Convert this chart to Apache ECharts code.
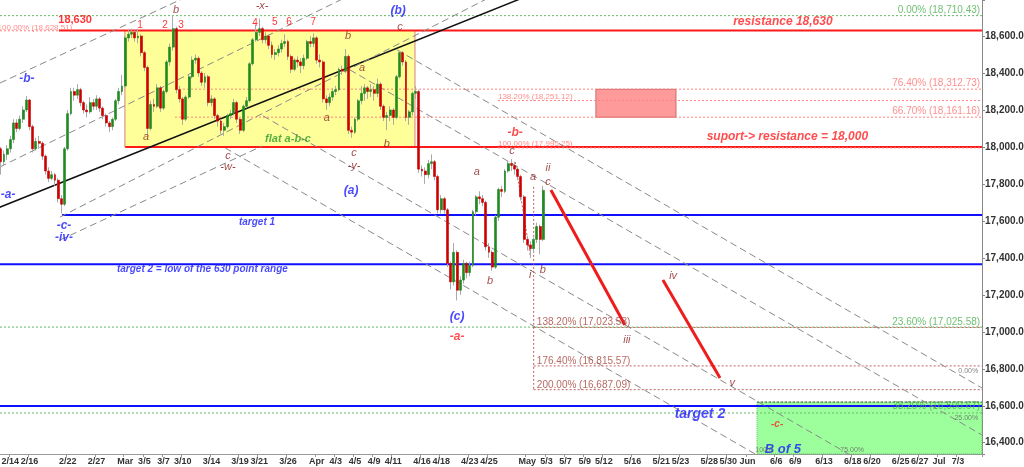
<!DOCTYPE html>
<html><head><meta charset="utf-8">
<script src="https://cdn.jsdelivr.net/npm/echarts/dist/echarts.min.js"></script>
<style>html,body{margin:0;padding:0;background:#fff}#c{width:1024px;height:467px}</style>
</head><body><div id="c"></div><script>
// trading days (one slot per day, 3 bars per day)
const days = ['2/13','2/14','2/15','2/16','2/19','2/20','2/21','2/22','2/23','2/26','2/27','2/28','2/29',
'3/1','3/4','3/5','3/6','3/7','3/8','3/11','3/12','3/13','3/14','3/15','3/18','3/19','3/20','3/21','3/22','3/25','3/26','3/27','3/28',
'4/1','4/2','4/3','4/4','4/5','4/8','4/9','4/10','4/11','4/12','4/15','4/16','4/17','4/18','4/19','4/22','4/23','4/24','4/25','4/26','4/29','4/30',
'5/1','5/2','5/3','5/6','5/7','5/8','5/9','5/10','5/13','5/14','5/15','5/16','5/17','5/20','5/21','5/22','5/23','5/24','5/27','5/28','5/29','5/30','5/31',
'6/3','6/4','6/5','6/6','6/7','6/10','6/11','6/12','6/13','6/14','6/17','6/18','6/19','6/20','6/21','6/24','6/25','6/26','6/27','6/28',
'7/1','7/2','7/3','7/4','7/5'];
const barsPerDay = 3;
// [day, printed tick label]
const tickLabels = [['2/14','2/14'],['2/16','2/16'],['2/22','2/22'],['2/27','2/27'],['3/1','Mar'],['3/5','3/5'],['3/7','3/7'],['3/11','3/10'],
['3/14','3/14'],['3/19','3/19'],['3/21','3/21'],['3/26','3/26'],['4/1','Apr'],['4/3','4/3'],['4/5','4/5'],['4/9','4/9'],['4/11','4/11'],
['4/16','4/16'],['4/18','4/18'],['4/23','4/23'],['4/25','4/25'],['5/1','May'],['5/3','5/3'],['5/7','5/7'],['5/9','5/9'],['5/13','5/12'],
['5/16','5/16'],['5/21','5/21'],['5/23','5/23'],['5/28','5/28'],['5/30','5/30'],['6/3','Jun'],['6/6','6/6'],['6/10','6/9'],['6/13','6/13'],
['6/18','6/18'],['6/20','6/20'],['6/25','6/25'],['6/27','6/27'],['7/1','Jul'],['7/3','7/3']];
// [open, close, low, high]
const candles = [
[18110,17990,17970,18130],[17990,17920,17850,18000],[17920,17960,17900,17980],[17960,17990,17930,18010],[17990,18040,17970,18060],
[18040,18130,18020,18150],[18130,18100,18080,18150],[18100,18150,18090,18170],[18150,18200,18130,18220],[18200,18254,18190,18275],
[18254,18110,18090,18260],[18110,17990,17970,18120],[17990,18030,17980,18050],[18030,18020,17990,18060],[18020,17950,17930,18030],
[17950,17870,17850,17960],[17870,17830,17810,17890],[17830,17850,17820,17870],[17850,17820,17790,17860],[17820,17720,17700,17830],
[17720,17690,17640,17740],[17690,17990,17680,18000],[17990,18180,17980,18200],[18180,18300,18170,18320],[18300,18280,18250,18320],
[18280,18310,18260,18340],[18310,18240,18220,18320],[18240,18200,18180,18250],[18200,18190,18160,18230],[18190,18240,18180,18270],
[18240,18220,18200,18260],[18220,18260,18200,18280],[18260,18210,18190,18270],[18210,18170,18150,18220],[18170,18130,18110,18180],
[18130,18110,18080,18140],[18110,18150,18090,18160],[18150,18250,18140,18260],[18250,18300,18230,18320],[18300,18330,18280,18390],
[18330,18590,18320,18600],[18590,18610,18570,18635],[18610,18620,18590,18640],[18620,18590,18570,18630],[18590,18600,18560,18640],
[18600,18510,18490,18610],[18510,18430,18410,18520],[18430,18100,18060,18440],[18100,18230,18090,18250],[18230,18220,18190,18260],
[18220,18320,18210,18340],[18320,18210,18190,18330],[18210,18300,18200,18310],[18300,18460,18290,18470],[18460,18540,18440,18560],
[18540,18640,18520,18710],[18640,18310,18290,18650],[18310,18260,18240,18330],[18260,18150,18120,18270],[18150,18270,18140,18280],
[18270,18380,18260,18390],[18380,18470,18370,18490],[18470,18480,18450,18500],[18480,18400,18380,18490],[18400,18350,18330,18410],
[18350,18380,18320,18400],[18380,18240,18220,18390],[18240,18260,18220,18280],[18260,18170,18150,18270],[18170,18140,18110,18180],
[18140,18090,18070,18150],[18090,18110,18060,18130],[18110,18170,18100,18180],[18170,18180,18150,18200],[18180,18240,18170,18260],
[18240,18150,18130,18250],[18150,18090,18070,18160],[18090,18220,18080,18230],[18220,18250,18210,18270],[18250,18450,18240,18460],
[18450,18580,18440,18590],[18580,18620,18570,18660],[18620,18640,18600,18695],[18640,18580,18560,18650],[18580,18600,18560,18620],
[18600,18550,18530,18610],[18550,18500,18480,18570],[18500,18510,18470,18530],[18510,18530,18490,18550],[18530,18560,18510,18580],
[18560,18570,18540,18610],[18570,18490,18470,18580],[18490,18420,18400,18500],[18420,18470,18410,18480],[18470,18460,18430,18490],
[18460,18440,18400,18480],[18440,18480,18420,18500],[18480,18570,18470,18580],[18570,18560,18540,18600],[18560,18590,18540,18615],
[18590,18470,18450,18600],[18470,18460,18430,18500],[18460,18260,18240,18470],[18260,18240,18200,18280],[18240,18270,18220,18290],
[18270,18300,18250,18320],[18300,18310,18280,18330],[18310,18420,18300,18430],[18420,18410,18390,18440],[18410,18490,18400,18530],
[18490,18090,18070,18500],[18090,18080,18050,18110],[18080,18150,18070,18160],[18150,18250,18140,18260],[18250,18290,18230,18330],
[18290,18320,18250,18340],[18320,18300,18260,18330],[18300,18310,18270,18340],[18310,18290,18250,18330],[18290,18340,18270,18370],
[18340,18220,18200,18350],[18220,18160,18140,18230],[18160,18170,18090,18190],[18170,18200,18140,18220],[18200,18160,18120,18210],
[18160,18380,18150,18390],[18380,18510,18370,18520],[18510,18460,18440,18520],[18460,18160,18140,18470],[18160,18190,18120,18200],
[18190,18290,18170,18300],[18290,18300,18260,18330],[18300,17880,17860,18310],[17880,17870,17840,17900],[17870,17850,17800,17890],
[17850,17910,17830,17930],[17910,17920,17880,17960],[17920,17840,17820,17930],[17840,17660,17640,17850],[17660,17720,17640,17740],
[17720,17660,17640,17730],[17660,17370,17350,17670],[17370,17270,17230,17380],[17270,17430,17250,17480],[17430,17225,17170,17440],
[17225,17280,17200,17300],[17280,17370,17260,17390],[17370,17320,17290,17380],[17320,17360,17300,17380],[17360,17650,17350,17660],
[17650,17730,17630,17740],[17730,17720,17690,17760],[17720,17700,17680,17740],[17700,17460,17440,17710],[17460,17430,17400,17480],
[17430,17350,17330,17440],[17350,17620,17340,17630],[17620,17770,17600,17780],[17770,17760,17730,17790],[17760,17870,17750,17880],
[17870,17910,17860,17925],[17910,17900,17870,17935],[17900,17880,17850,17920],[17880,17840,17820,17890],[17840,17730,17710,17850],
[17730,17500,17480,17740],[17500,17470,17440,17520],[17470,17450,17400,17490],[17450,17500,17430,17510],[17500,17570,17480,17590],
[17570,17500,17420,17580],[17500,17765.25,17490,17790]];
const lastPrice = 17765.25;
const priceRange = [16339, 18795];

// horizontal levels: [price, fromBar, toBar, style]
const levels = [
[18630, 19.2, 308.5, 'red'], [18000, 40, 308.5, 'red'], [18628.51, -0.5, 19.2, 'pinkDot'],
[18710.43, -0.5, 308.5, 'greenDot'], [18312.73, 55.6, 308.5, 'pinkDot'], [18161.16, 55.6, 308.5, 'pinkDot'],
[18251.12, 156.8, 308.5, 'pinkDot'], [17995.25, 156.8, 308.5, 'pinkDot'],
[17632, 20.2, 308.5, 'blue'], [17365, -0.5, 308.5, 'blue'], [16598, -0.5, 308.5, 'blue'],
[17025.58, -0.5, 308.5, 'greenDot'], [17023.53, 168, 308.5, 'brownDot'], [16815.57, 168, 308.5, 'brownDot'],
[16687.09, 168, 308.5, 'brownDot'], [16561, -0.5, 308.5, 'greenDot'], [16620, 238, 308.5, 'blackDot']];
// sloped / vertical lines: [[bar, price], [bar, price], style]
const segments = [
[[-0.5, 17666], [170, 18844], 'trend'],
[[125.2, 18525], [308.5, 16696], 'dash'], [[110.4, 18417], [308.5, 16442], 'dash'],
[[83.2, 18168], [308.5, 15922], 'dash'], [[71.3, 17995], [308.5, 15630], 'dash'],
[[0.75, 18346], [60, 18818], 'dash'], [[0.75, 17892], [110, 18817], 'dash'],
[[19.6, 17621], [156, 18825], 'dash'], [[19.6, 17497], [82.9, 18005], 'dash'],
[[168, 17784], [168, 16687], 'brownDot'], [[162.2, 17919], [166.9, 17415], 'brownDot'],
[[173.4, 17767], [196.6, 17037], 'proj'], [[208.5, 17280], [226.4, 16750], 'proj']];
// boxes: [[bar, price], [bar, price], style]
const boxes = [
[[39.9, 18630], [130.8, 18000], 'yellow'], [[187.5, 18312], [212.6, 18161], 'pink'], [[238, 16339], [308.5, 16620], 'green']];
// text annotations: [bar, price, text, style, anchor]
const notes = [
[24.3, 18687, '18,630', 'redBold', 'c'], [0, 18646, '100.00% (18,628.51)', 'pink', 'l'],
[44.6, 18660, '1', 'num', 'c'], [52.5, 18660, '2', 'num', 'c'], [57.5, 18660, '3', 'num', 'c'], [55.9, 18741, 'b', 'wave', 'c'],
[80.7, 18671, '4', 'num', 'c'], [86.9, 18676, '5', 'num', 'c'], [91.3, 18676, '6', 'num', 'c'], [98.9, 18676, '7', 'num', 'c'],
[82.9, 18763, '-x-', 'wave', 'c'], [125.5, 18736, '(b)', 'blue', 'c'], [126.1, 18649, 'c', 'wave', 'c'],
[9.2, 18368, '-b-', 'blue', 'c'], [3.3, 17740, '-a-', 'blue', 'c'], [20.8, 17573, '-c-', 'blue', 'c'], [20.8, 17508, '-iv-', 'blue', 'c'],
[46.5, 18054, 'a', 'wave', 'c'], [72.2, 17951, 'c', 'wave', 'c'], [72.2, 17892, '-w-', 'wave', 'c'],
[91, 18043, 'flat a-b-c', 'green', 'c'], [109.8, 18600, 'b', 'wave', 'c'], [103.2, 18157, 'a', 'wave', 'c'],
[114.2, 18427, 'a', 'wave', 'c'], [122, 18016, 'b', 'wave', 'c'], [111.7, 17968, 'c', 'wave', 'c'], [111.7, 17897, '-y-', 'wave', 'c'],
[110.8, 17762, '(a)', 'blue', 'c'], [81.3, 17594, 'target 1', 'blueSm', 'c'], [150.2, 17865, 'a', 'wave', 'c'],
[162.2, 18076, '-b-', 'redBI', 'c'], [156.8, 18016, '100.00% (17,995.25)', 'pink', 'l'], [161.2, 17978, 'c', 'wave', 'c'],
[167.8, 17838, 'a', 'wave', 'c'], [172.5, 17886, 'ii', 'wave', 'c'], [172.5, 17811, 'c', 'wave', 'c'],
[156.8, 18271, '138.20% (18,251.12)', 'pink', 'l'], [307.9, 18741, '0.00% (18,710.43)', 'greenFib', 'r'],
[246.1, 18676, 'resistance 18,630', 'redBI', 'c'], [307.9, 18346, '76.40% (18,312.73)', 'pinkFib', 'r'],
[307.9, 18195, '66.70% (18,161.16)', 'pinkFib', 'r'], [272.8, 18054, 'suport-> resistance = 18,000', 'redBI', 'r'],
[144, 17080, '(c)', 'blue', 'c'], [144, 16972, '-a-', 'redBI', 'c'], [154.3, 17275, 'b', 'wave', 'c'],
[166.9, 17307, 'i', 'wave', 'c'], [170.9, 17334, 'b', 'wave', 'c'], [197.2, 16956, 'iii', 'wave', 'c'],
[211.7, 17302, 'iv', 'wave', 'c'], [230.2, 16723, 'v', 'wave', 'c'],
[169, 17053, '138.20% (17,023.53)', 'brownFib', 'l'], [169, 16842, '176.40% (16,815.57)', 'brownFib', 'l'],
[169, 16712, '200.00% (16,687.09)', 'brownFib', 'l'], [220.1, 16555, 'target 2', 'blueBig', 'c'],
[307.9, 17053, '23.60% (17,025.58)', 'greenFib', 'r'], [307.3, 16788, '0.00%', 'tiny', 'r'],
[307.9, 16599, '38.20% (16,590.67)', 'greenFib', 'r'], [307.3, 16534, '25.00%', 'tiny', 'r'],
[244.3, 16501, '-c-', 'redSm', 'c'], [246.1, 16366, 'B of 5', 'blueB5', 'c'], [267.8, 16360, '75.00%', 'tiny', 'c'],
[240.2, 16360, '100.0', 'tiny', 'c'],
[37.4, 17340, 'target 2 = low of the 630 point range', 'blueSm', 'l'], [-0.6, 17385, '17,388.24', 'blueTiny', 'l']];

const FONT = 'Liberation Sans, Arial, sans-serif';
const lineStyles = {
  red: {color: '#ff1a1a', width: 2, type: 'solid'},
  blue: {color: '#1010ff', width: 2, type: 'solid'},
  pinkDot: {color: '#ff8080', width: 1, type: [2, 2]},
  greenDot: {color: '#66bb66', width: 1, type: [2, 2]},
  brownDot: {color: '#c06060', width: 1, type: [2, 2]},
  blackDot: {color: '#555', width: 1, type: [2, 2]},
  trend: {color: '#111', width: 1.5, type: 'solid'},
  dash: {color: '#888', width: 1, type: [7, 4]},
  proj: {color: '#ee1c1c', width: 3, type: 'solid'}
};
const boxStyles = {
  yellow: {color: '#ffff99', borderColor: '#d88080', borderWidth: 1},
  pink: {color: '#ff9a9a', borderColor: '#cc6b6b', borderWidth: 1},
  green: {color: '#9cff9c', borderColor: '#66bb66', borderWidth: 1, borderType: 'dotted'}
};
const textStyles = {
  redBold: {color: '#ff0000', fontSize: 11, fontWeight: 'bold'},
  num: {color: '#ff0000', fontSize: 10},
  wave: {color: '#8b1a1a', fontSize: 11, fontStyle: 'italic'},
  blue: {color: '#1a1aff', fontSize: 12, fontStyle: 'italic', fontWeight: 'bold'},
  blueSm: {color: '#1a1aff', fontSize: 10, fontStyle: 'italic', fontWeight: 'bold'},
  blueBig: {color: '#1a1aff', fontSize: 14, fontStyle: 'italic', fontWeight: 'bold'},
  blueB5: {color: '#1a1aff', fontSize: 13, fontStyle: 'italic', fontWeight: 'bold'},
  blueTiny: {color: '#1a1aff', fontSize: 7},
  green: {color: '#2e9a2e', fontSize: 11, fontStyle: 'italic', fontWeight: 'bold'},
  redBI: {color: '#ff2020', fontSize: 12, fontStyle: 'italic', fontWeight: 'bold'},
  redSm: {color: '#ff2020', fontSize: 10, fontStyle: 'italic', fontWeight: 'bold'},
  pink: {color: '#ff7070', fontSize: 8},
  pinkFib: {color: '#ff7070', fontSize: 10},
  greenFib: {color: '#4caf50', fontSize: 10},
  brownFib: {color: '#a5423a', fontSize: 10},
  tiny: {color: '#666', fontSize: 7}
};

const categories = [];
days.forEach(d => { for (let k = 0; k < barsPerDay; k++) categories.push(d + '#' + k); });
const labelAt = new Map(tickLabels.map(([d, t]) => [days.indexOf(d) * barsPerDay + 1, t]));
const nBars = categories.length;

const series = [];
series.push({type: 'line', xAxisIndex: 1, data: [], silent: true, z: 1,
  markArea: {silent: true, data: boxes.map(([a, b, s]) => [
    {coord: a, itemStyle: boxStyles[s]}, {coord: b}])}});
levels.forEach(([p, f, t, s]) => series.push({type: 'line', xAxisIndex: 1, silent: true, symbol: 'none', z: 2,
  data: [[f, p], [t, p]], lineStyle: lineStyles[s]}));
segments.forEach(([a, b, s]) => series.push({type: 'line', xAxisIndex: 1, silent: true, symbol: 'none',
  z: s === 'proj' ? 6 : 3, data: [a, b], lineStyle: lineStyles[s]}));
series.push({type: 'candlestick', xAxisIndex: 0, z: 4, barWidth: 1, silent: true, data: candles,
  itemStyle: {color: '#aaaaaa', color0: '#aaaaaa', borderColor: '#aaaaaa', borderColor0: '#aaaaaa', borderWidth: 1}});
series.push({type: 'candlestick', xAxisIndex: 0, z: 5, barWidth: 2.4, silent: true,
  data: candles.map(([o, c]) => [o, c, Math.min(o, c), Math.max(o, c)]),
  itemStyle: {color: '#1f8a1f', color0: '#cc0000', borderColor: '#1f8a1f', borderColor0: '#cc0000', borderWidth: 0.6},
  markLine: {silent: true, symbol: 'none', data: [{yAxis: lastPrice}], lineStyle: {opacity: 0},
    label: {position: 'end', distance: 2, formatter: '17,765.25', backgroundColor: '#ff2a2a', color: '#fff',
      fontSize: 10, fontWeight: 'bold', fontFamily: FONT, padding: [2, 2, 1, 2]}}});
series.push({type: 'scatter', xAxisIndex: 1, symbolSize: 0, silent: true, z: 10,
  data: notes.map(([x, y, t, s, a]) => ({value: [x, y], label: Object.assign({show: true, formatter: t,
    fontFamily: FONT, distance: 0, position: a === 'c' ? 'inside' : (a === 'l' ? 'right' : 'left')}, textStyles[s])}))});

const chart = echarts.init(document.getElementById('c'), null, {renderer: 'canvas'});
chart.setOption({
  animation: false,
  grid: {left: -4, right: 42, top: 0, bottom: 13, containLabel: false, outerBoundsMode: 'none'},
  xAxis: [
    {type: 'category', data: categories, boundaryGap: true,
     axisLine: {onZero: false, lineStyle: {color: '#999'}},
     axisTick: {show: true, interval: (i) => labelAt.has(i), length: 3, lineStyle: {color: '#999'}},
     axisLabel: {interval: (i) => labelAt.has(i), formatter: (v, i) => labelAt.get(i) || '', hideOverlap: false,
       showMinLabel: true, fontSize: 9, fontWeight: 'bold', color: '#333', fontFamily: FONT, margin: 3},
     splitLine: {show: false}},
    {type: 'value', min: -0.5, max: nBars - 0.5, show: false, axisLine: {onZero: false}}
  ],
  yAxis: {type: 'value', position: 'right', min: priceRange[0], max: priceRange[1], splitNumber: 12, scale: true,
    axisLine: {show: true, onZero: false, lineStyle: {color: '#888'}},
    axisTick: {show: true, length: 3, lineStyle: {color: '#888'}},
    splitLine: {show: false},
    axisLabel: {fontSize: 10, fontWeight: 'bold', color: '#333', fontFamily: FONT, margin: 3,
      formatter: (v) => (Math.round(v) % 200 === 0) ? v.toLocaleString('en-US', {minimumFractionDigits: 2, maximumFractionDigits: 2}) : ''}},
  series: series
});
</script></body></html>
